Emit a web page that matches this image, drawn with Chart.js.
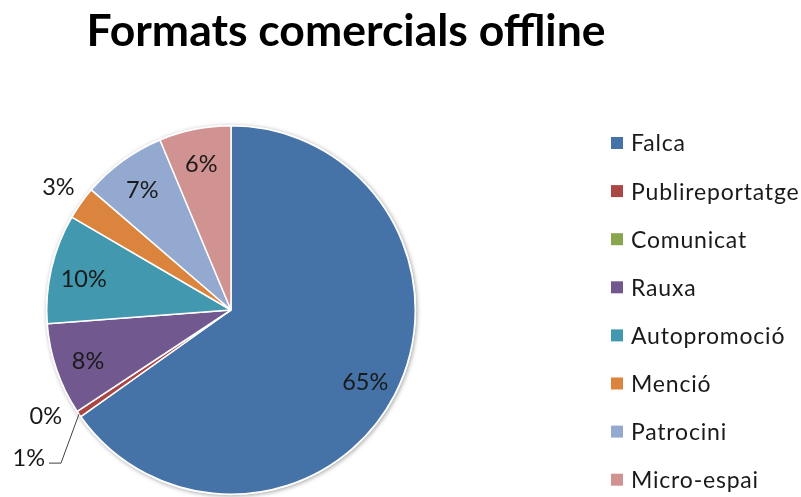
<!DOCTYPE html>
<html>
<head>
<meta charset="utf-8">
<script src="https://cdn.jsdelivr.net/npm/chart.js@4.4.1/dist/chart.umd.min.js"></script>
<style>
  html, body { margin: 0; padding: 0; background: #ffffff; }
  #wrap { width: 801px; height: 497px; position: relative; }
</style>
</head>
<body>
<div id="wrap"><canvas id="chart" width="801" height="497"></canvas></div>
<script>
// Commercial offline formats: share of each format
const titleText = 'Formats comercials offline';
const categories = ['Falca', 'Publireportatge', 'Comunicat', 'Rauxa', 'Autopromoció', 'Menció', 'Patrocini', 'Micro-espai'];
const shares = [65.2, 0.55, 0, 8.1, 9.6, 2.9, 7.4, 6.3];
const colors = ['#4572A7', '#AA4643', '#89A54E', '#71588F', '#4198AF', '#DB843D', '#93A9CF', '#D19392'];

const FONT = 'Lato, "Open Sans", sans-serif';
const TEXT = '#1a1a1a';

// Percent labels: inside the slice for large shares, outside for small ones
const labelPlugin = {
  id: 'pctLabels',
  afterDatasetsDraw(chart) {
    const ctx = chart.ctx;
    const meta = chart.getDatasetMeta(0);
    const values = chart.data.datasets[0].data;
    const total = values.reduce((a, b) => a + b, 0);
    const dy = 3; // optical centring of the digits
    ctx.save();
    ctx.font = '23.5px ' + FONT;
    ctx.fillStyle = TEXT;
    ctx.textAlign = 'center';
    ctx.textBaseline = 'middle';
    meta.data.forEach((arc, i) => {
      const p = arc.getProps(['x', 'y', 'startAngle', 'endAngle', 'outerRadius'], true);
      const mid = (p.startAngle + p.endAngle) / 2;
      const r = p.outerRadius;
      const pct = values[i] / total * 100;
      const txt = Math.round(pct) + '%';
      if (pct >= 5) {
        const d = r * 0.82;
        ctx.fillText(txt, p.x + Math.cos(mid) * d, p.y + Math.sin(mid) * d + dy);
      } else if (pct >= 2) {
        const d = r * 1.15;
        ctx.fillText(txt, p.x + Math.cos(mid) * d, p.y + Math.sin(mid) * d);
      } else if (pct >= 0.5) {
        // thin slice: leader line from the rim down and to the left
        const sx = p.x + Math.cos(mid) * r;
        const sy = p.y + Math.sin(mid) * r;
        const ex = sx - 18, ey = sy + 49;
        ctx.strokeStyle = '#404040';
        ctx.lineWidth = 1;
        ctx.beginPath();
        ctx.moveTo(sx, sy);
        ctx.lineTo(ex, ey);
        ctx.lineTo(ex - 12, ey);
        ctx.stroke();
        ctx.textAlign = 'right';
        ctx.fillText(txt, ex - 16, ey - 5);
        ctx.textAlign = 'center';
      } else {
        const a = mid + 3.5 * Math.PI / 180;
        const d = r * 1.16;
        ctx.fillText(txt, p.x + Math.cos(a) * d, p.y + Math.sin(a) * d);
      }
    });
    ctx.restore();
  }
};

// Soft rim shadow behind the pie
const rimShadow = {
  id: 'rimShadow',
  beforeDatasetsDraw(chart) {
    const arc = chart.getDatasetMeta(0).data[0];
    if (!arc) return;
    const ctx = chart.ctx;
    ctx.save();
    ctx.shadowColor = 'rgba(0,0,0,0.35)';
    ctx.shadowBlur = 4;
    ctx.shadowOffsetX = 1;
    ctx.shadowOffsetY = 1;
    ctx.fillStyle = '#ffffff';
    ctx.beginPath();
    ctx.arc(arc.x, arc.y, arc.outerRadius + 1, 0, Math.PI * 2);
    ctx.fill();
    ctx.restore();
  }
};

// Title and legend drawn beside the pie
const sidePlugin = {
  id: 'sideText',
  afterDraw(chart) {
    const ctx = chart.ctx;
    ctx.save();
    ctx.fillStyle = '#000000';
    ctx.font = 'bold 44.5px ' + FONT;
    ctx.textAlign = 'center';
    ctx.textBaseline = 'alphabetic';
    ctx.fillText(titleText, 346, 46);

    ctx.font = '23px ' + FONT;
    ctx.letterSpacing = '0.8px';
    ctx.textAlign = 'left';
    ctx.textBaseline = 'middle';
    const labels = chart.data.labels;
    const bg = chart.data.datasets[0].backgroundColor;
    labels.forEach((lab, i) => {
      const y = 143 + i * 48.1;
      ctx.fillStyle = bg[i];
      ctx.fillRect(611, y - 6, 12, 12);
      ctx.fillStyle = TEXT;
      ctx.fillText(lab, 631, y + 1);
    });
    ctx.restore();
  }
};

new Chart(document.getElementById('chart'), {
  type: 'pie',
  data: {
    labels: categories,
    datasets: [{
      data: shares,
      backgroundColor: colors,
      borderColor: '#ffffff',
      borderWidth: 1.5
    }]
  },
  options: {
    responsive: false,
    animation: false,
    layout: { padding: { left: 46, top: 125, right: 385, bottom: 2 } },
    plugins: {
      legend: { display: false },
      tooltip: { enabled: false }
    }
  },
  plugins: [rimShadow, labelPlugin, sidePlugin]
});
</script>
</body>
</html>
